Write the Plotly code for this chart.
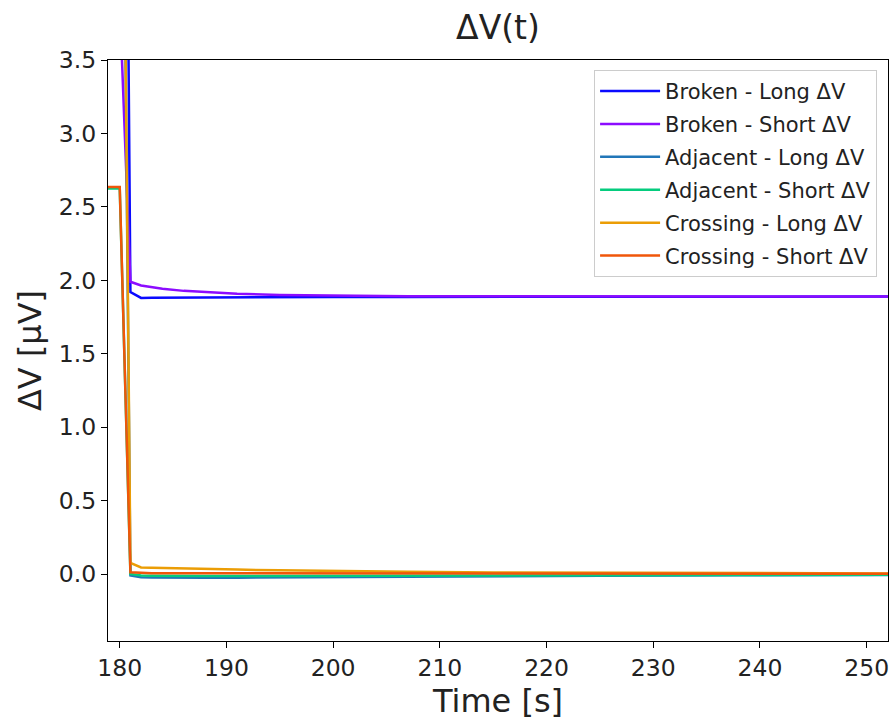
import plotly.graph_objects as go

# Sample times [s]
time_s = [178, 179, 180, 181, 182, 183, 184, 186, 188, 191, 195, 200, 207, 215, 225, 238, 252]

# Voltage differences [µV]
broken_long = [11.5, 11.3, 11.0, 1.92, 1.88, 1.881, 1.881, 1.882, 1.883, 1.884, 1.885, 1.886, 1.887, 1.888, 1.888, 1.889, 1.889]
broken_short = [4.2, 4.1, 3.9, 1.99, 1.965, 1.952, 1.942, 1.928, 1.918, 1.908, 1.900, 1.895, 1.892, 1.891, 1.890, 1.890, 1.890]
adjacent_long = [7.9, 7.8, 7.7, -0.01, -0.022, -0.024, -0.025, -0.026, -0.026, -0.025, -0.023, -0.021, -0.018, -0.015, -0.012, -0.009, -0.007]
adjacent_short = [2.625, 2.625, 2.625, 0.0, -0.010, -0.012, -0.013, -0.014, -0.014, -0.014, -0.013, -0.012, -0.010, -0.009, -0.008, -0.006, -0.005]
crossing_long = [8.0, 7.9, 7.8, 0.075, 0.045, 0.042, 0.040, 0.037, 0.034, 0.030, 0.025, 0.020, 0.015, 0.011, 0.008, 0.005, 0.004]
crossing_short = [2.635, 2.635, 2.635, 0.012, 0.006, 0.005, 0.005, 0.005, 0.005, 0.005, 0.004, 0.004, 0.004, 0.003, 0.003, 0.002, 0.002]

series = [
    ("Broken - Long ΔV", broken_long, "#0a0aff"),
    ("Broken - Short ΔV", broken_short, "#8c0cff"),
    ("Adjacent - Long ΔV", adjacent_long, "#2176b8"),
    ("Adjacent - Short ΔV", adjacent_short, "#05cc7e"),
    ("Crossing - Long ΔV", crossing_long, "#eb9d05"),
    ("Crossing - Short ΔV", crossing_short, "#f0560a"),
]

FONT = "DejaVu Sans"
TEXT = "#222"

fig = go.Figure()
for i, (name, vals, color) in enumerate(series):
    fig.add_trace(go.Scatter(
        x=time_s, y=vals, mode="lines", name=name,
        legendgroup=f"g{i}",
        line=dict(color=color, width=2.5),
    ))

axis_common = dict(
    showgrid=False, zeroline=False,
    showline=True, linecolor="black", linewidth=1.3, mirror=True,
    ticks="outside", ticklen=6, tickwidth=1.3, tickcolor="black",
    tickfont=dict(family=FONT, size=23.5, color=TEXT),
)

fig.update_layout(
    width=891, height=721,
    margin=dict(l=108, r=3, t=60, b=80),
    paper_bgcolor="white", plot_bgcolor="white",
    font=dict(family=FONT, color=TEXT),
    title=dict(
        text="ΔV(t)", x=0.5, xref="paper", xanchor="center",
        y=1 - 27 / 721, yref="container", yanchor="middle",
        font=dict(family=FONT, size=33, color=TEXT),
    ),
    xaxis=dict(
        range=[178.9, 252.0], tickmode="array",
        tickvals=[180, 190, 200, 210, 220, 230, 240, 250],
        title=dict(text="Time [s]", font=dict(family=FONT, size=32, color=TEXT), standoff=7),
        **axis_common,
    ),
    yaxis=dict(
        range=[-0.456, 3.5], tickmode="array",
        tickvals=[0.0, 0.5, 1.0, 1.5, 2.0, 2.5, 3.0, 3.5],
        ticktext=["0.0", "0.5", "1.0", "1.5", "2.0", "2.5", "3.0", "3.5"],
        title=dict(text="ΔV [μV]", font=dict(family=FONT, size=32, color=TEXT), standoff=7),
        **axis_common,
    ),
    legend=dict(
        x=0.986, y=0.983, xanchor="right", yanchor="top",
        bgcolor="rgba(255,255,255,0.85)", bordercolor="#cccccc", borderwidth=1,
        font=dict(family=FONT, size=21, color=TEXT),
        traceorder="grouped", tracegroupgap=2.6, itemwidth=60,
    ),
    showlegend=True,
)

fig.write_html("out.html")
